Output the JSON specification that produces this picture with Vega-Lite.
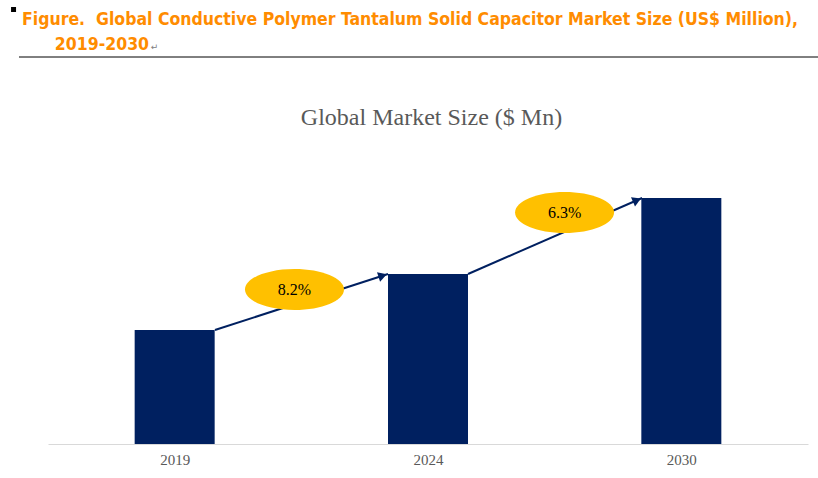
{
  "$schema": "https://vega.github.io/schema/vega-lite/v6.json",
  "width": 760,
  "height": 294,
  "autosize": "none",
  "padding": {"left": 48, "top": 150, "right": 10, "bottom": 34},
  "background": "white",
  "config": {"view": {"stroke": null}, "font": "Liberation Serif"},
  "title": {
    "text": ["Figure.\u00a0\u00a0Global Conductive Polymer Tantalum Solid Capacitor Market Size (US$ Million),", "\u200b\u00a0\u00a0\u00a0\u00a0\u00a0\u00a02019-2030"],
    "anchor": "start",
    "frame": "group",
    "dx": -26,
    "dy": 46,
    "offset": 0,
    "font": "'DejaVu Sans Condensed', 'Liberation Sans', sans-serif",
    "fontSize": 17.5,
    "fontWeight": "bold",
    "color": "#FF8C00",
    "lineHeight": 25
  },
  "datasets": {
    "bars": [
      {"idx": 0, "year": "2019", "value": 1140},
      {"idx": 1, "year": "2024", "value": 1700},
      {"idx": 2, "year": "2030", "value": 2460}
    ],
    "growth": [
      {"seg": 1, "x0": 0.159, "x1": 0.842, "v0": 1140, "v1": 1700, "lx": 0.473, "lv": 1545, "label": "8.2%"},
      {"seg": 2, "x0": 1.158, "x1": 1.845, "v0": 1700, "v1": 2460, "lx": 1.539, "lv": 2315, "label": "6.3%"}
    ],
    "frame": [{"x0": -0.6145, "x1": 2.5395, "v": 3870, "sx": -0.636, "sv": 4345, "mx": -0.094, "mv": 3940, "mark": "\u21b5"}]
  },
  "layer": [
    {
      "data": {"name": "bars"},
      "mark": {"type": "bar", "width": 80, "orient": "vertical", "color": "#002060"},
      "encoding": {
        "x": {
          "field": "idx", "type": "quantitative",
          "scale": {"domain": [-0.5, 2.5], "nice": false, "zero": false, "padding": 0},
          "axis": {
            "values": [0, 1, 2],
            "labelExpr": "['2019','2024','2030'][datum.value]",
            "title": "", "ticks": false, "grid": false,
            "domainColor": "#d9d9d9", "domainWidth": 1,
            "labelFont": "Liberation Serif", "labelFontSize": 15, "labelColor": "#595959",
            "labelPadding": 8
          }
        },
        "y": {
          "field": "value", "type": "quantitative",
          "scale": {"domain": [0, 2940], "nice": false},
          "axis": {
            "title": "Global Market Size ($ Mn)",
            "titleAngle": 0, "titleAlign": "center", "titleBaseline": "alphabetic",
            "titleX": 383, "titleY": -26,
            "titleFont": "Liberation Serif", "titleFontSize": 24, "titleFontWeight": "normal", "titleColor": "#595959",
            "labels": false, "ticks": false, "domain": false, "grid": false
          }
        }
      }
    },
    {
      "data": {"name": "growth"},
      "mark": {"type": "rule", "color": "#002060", "strokeWidth": 2},
      "encoding": {
        "x": {"field": "x0", "type": "quantitative", "scale": {"domain": [-0.5, 2.5], "nice": false, "zero": false, "padding": 0}},
        "x2": {"field": "x1"},
        "y": {"field": "v0", "type": "quantitative", "scale": {"domain": [0, 2940], "nice": false}},
        "y2": {"field": "v1"}
      }
    },
    {
      "data": {"name": "growth"},
      "transform": [{"filter": "datum.seg == 1"}],
      "mark": {"type": "point", "shape": "triangle-right", "filled": true, "opacity": 1, "size": 100, "angle": -17.9, "xOffset": -5.3, "yOffset": 1.7, "color": "#002060"},
      "encoding": {
        "x": {"field": "x1", "type": "quantitative", "scale": {"domain": [-0.5, 2.5], "nice": false, "zero": false, "padding": 0}},
        "y": {"field": "v1", "type": "quantitative", "scale": {"domain": [0, 2940], "nice": false}}
      }
    },
    {
      "data": {"name": "growth"},
      "transform": [{"filter": "datum.seg == 2"}],
      "mark": {"type": "point", "shape": "triangle-right", "filled": true, "opacity": 1, "size": 100, "angle": -23.6, "xOffset": -5.1, "yOffset": 2.2, "color": "#002060"},
      "encoding": {
        "x": {"field": "x1", "type": "quantitative", "scale": {"domain": [-0.5, 2.5], "nice": false, "zero": false, "padding": 0}},
        "y": {"field": "v1", "type": "quantitative", "scale": {"domain": [0, 2940], "nice": false}}
      }
    },
    {
      "data": {"name": "growth"},
      "mark": {"type": "point", "shape": "M-1,0A1,0.414,0,1,0,1,0A1,0.414,0,1,0,-1,0Z", "filled": true, "opacity": 1, "size": 9801, "color": "#FFC000", "strokeWidth": 0},
      "encoding": {
        "x": {"field": "lx", "type": "quantitative", "scale": {"domain": [-0.5, 2.5], "nice": false, "zero": false, "padding": 0}},
        "y": {"field": "lv", "type": "quantitative", "scale": {"domain": [0, 2940], "nice": false}}
      }
    },
    {
      "data": {"name": "growth"},
      "mark": {"type": "text", "font": "Liberation Serif", "fontSize": 16, "color": "#000000", "align": "center", "baseline": "middle"},
      "encoding": {
        "x": {"field": "lx", "type": "quantitative", "scale": {"domain": [-0.5, 2.5], "nice": false, "zero": false, "padding": 0}},
        "y": {"field": "lv", "type": "quantitative", "scale": {"domain": [0, 2940], "nice": false}},
        "text": {"field": "label"}
      }
    },
    {
      "data": {"name": "frame"},
      "mark": {"type": "rule", "color": "#000000", "strokeWidth": 1},
      "encoding": {
        "x": {"field": "x0", "type": "quantitative", "scale": {"domain": [-0.5, 2.5], "nice": false, "zero": false, "padding": 0}},
        "x2": {"field": "x1"},
        "y": {"field": "v", "type": "quantitative", "scale": {"domain": [0, 2940], "nice": false}}
      }
    },
    {
      "data": {"name": "frame"},
      "mark": {"type": "point", "shape": "square", "filled": true, "opacity": 1, "size": 25, "color": "#000000"},
      "encoding": {
        "x": {"field": "sx", "type": "quantitative", "scale": {"domain": [-0.5, 2.5], "nice": false, "zero": false, "padding": 0}},
        "y": {"field": "sv", "type": "quantitative", "scale": {"domain": [0, 2940], "nice": false}}
      }
    },
    {
      "data": {"name": "frame"},
      "mark": {"type": "text", "font": "DejaVu Sans", "fontSize": 9, "color": "#808080", "align": "left", "baseline": "alphabetic"},
      "encoding": {
        "x": {"field": "mx", "type": "quantitative", "scale": {"domain": [-0.5, 2.5], "nice": false, "zero": false, "padding": 0}},
        "y": {"field": "mv", "type": "quantitative", "scale": {"domain": [0, 2940], "nice": false}},
        "text": {"field": "mark"}
      }
    }
  ]
}
